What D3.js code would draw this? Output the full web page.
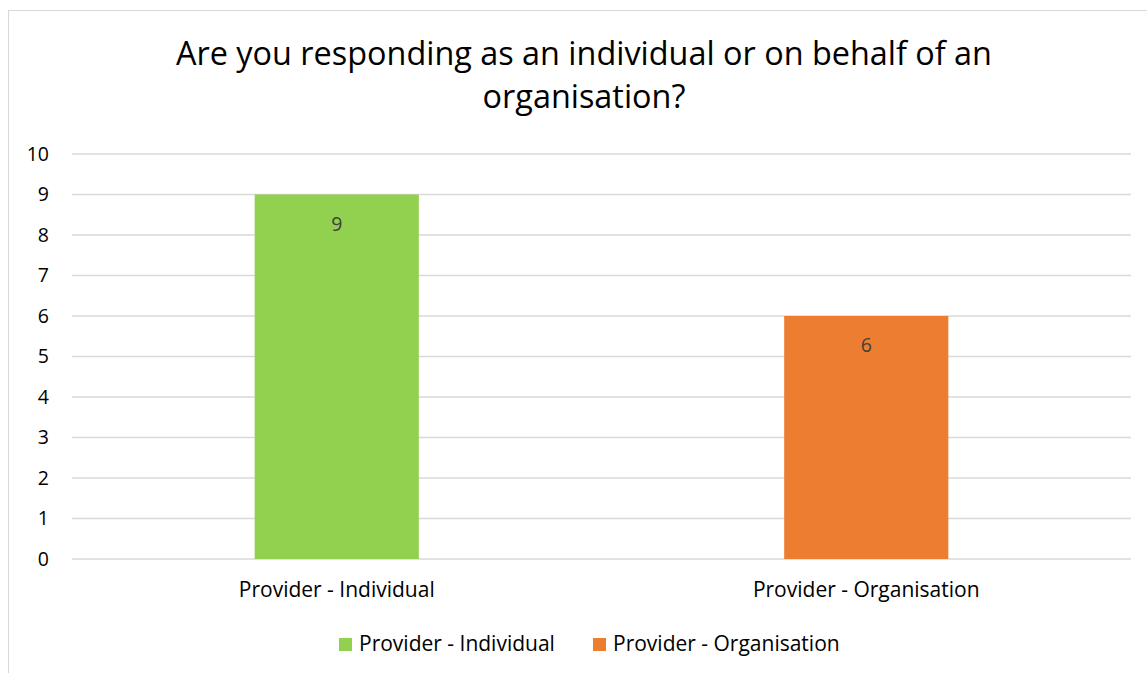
<!DOCTYPE html>
<html>
<head>
<meta charset="utf-8">
<script src="https://cdn.jsdelivr.net/npm/d3@7"></script>
<style>
  body { margin: 0; background: #fff; }
  svg text { font-family: "Open Sans", "Liberation Sans", sans-serif; }
</style>
</head>
<body>
<svg id="chart" width="1147" height="673"></svg>
<script>
// chart data
const categories = ["Provider - Individual", "Provider - Organisation"];
const values = [9, 6];
const colors = ["#92d050", "#ed7d31"];
const yTicks = [0, 1, 2, 3, 4, 5, 6, 7, 8, 9, 10];
const titleLines = ["Are you responding as an individual or on behalf of an", "organisation?"];

const FONT = '"Open Sans", "Liberation Sans", sans-serif';
const svg = d3.select("#chart");

// outer chart frame
svg.append("rect")
  .attr("x", 8.5).attr("y", 10.5)
  .attr("width", 1160).attr("height", 700)
  .attr("fill", "#fff")
  .attr("stroke", "#d9d9d9");

// title
svg.append("text")
  .attr("text-anchor", "middle")
  .attr("font-size", 32.4)
  .attr("fill", "#000")
  .selectAll("tspan")
  .data(titleLines)
  .enter()
  .append("tspan")
  .attr("x", 584)
  .attr("y", (d, i) => 65 + i * 43)
  .text((d) => d);

// scales
var x = d3.scaleBand().domain(categories).range([72, 1131]);
var y = d3.scaleLinear().domain([0, 10]).range([559, 154]);
const barW = x.bandwidth() * 0.31;

// gridlines
svg.append("g")
  .selectAll("line")
  .data(yTicks)
  .enter()
  .append("line")
  .attr("x1", 72).attr("x2", 1131)
  .attr("y1", (d) => y(d)).attr("y2", (d) => y(d))
  .attr("stroke", "#d9d9d9")
  .attr("stroke-width", 1.5);

// y axis labels
var yAxis = svg.append("g")
  .attr("transform", "translate(62,0)")
  .call(d3.axisLeft(y).tickValues(yTicks).tickSize(0).tickPadding(13));
yAxis.select(".domain").remove();
yAxis.selectAll("text")
  .attr("font-size", 19.5)
  .attr("fill", "#000")
  .style("font-family", FONT);

// bars
svg.selectAll("rect.bar")
  .data(values)
  .enter()
  .append("rect")
  .attr("class", "bar")
  .attr("x", (d, i) => x(categories[i]) + x.bandwidth() / 2 - barW / 2)
  .attr("y", (d) => y(d))
  .attr("width", barW)
  .attr("height", (d) => y(0) - y(d))
  .attr("fill", (d, i) => colors[i]);

// value labels
svg.selectAll("text.val")
  .data(values)
  .enter()
  .append("text")
  .attr("class", "val")
  .attr("x", (d, i) => x(categories[i]) + x.bandwidth() / 2)
  .attr("y", (d) => y(d) + 36)
  .attr("text-anchor", "middle")
  .attr("font-size", 19.5)
  .attr("fill", "#404040")
  .text((d) => d);

// x axis labels
var xAxis = svg.append("g")
  .attr("transform", "translate(0,559)")
  .call(d3.axisBottom(x).tickSize(0));
xAxis.select(".domain").remove();
xAxis.selectAll("text")
  .attr("y", 38)
  .attr("dy", null)
  .attr("font-size", 21)
  .attr("fill", "#000")
  .style("font-family", FONT);

// legend
const legendX = [339, 593];
var legend = svg.append("g")
  .selectAll("g")
  .data(categories)
  .enter()
  .append("g")
  .attr("transform", (d, i) => "translate(" + legendX[i] + ",638)");
legend.append("rect")
  .attr("width", 13).attr("height", 13)
  .attr("fill", (d, i) => colors[i]);
legend.append("text")
  .attr("x", 20).attr("y", 13)
  .attr("font-size", 21)
  .attr("fill", "#000")
  .text((d) => d);
</script>
</body>
</html>
